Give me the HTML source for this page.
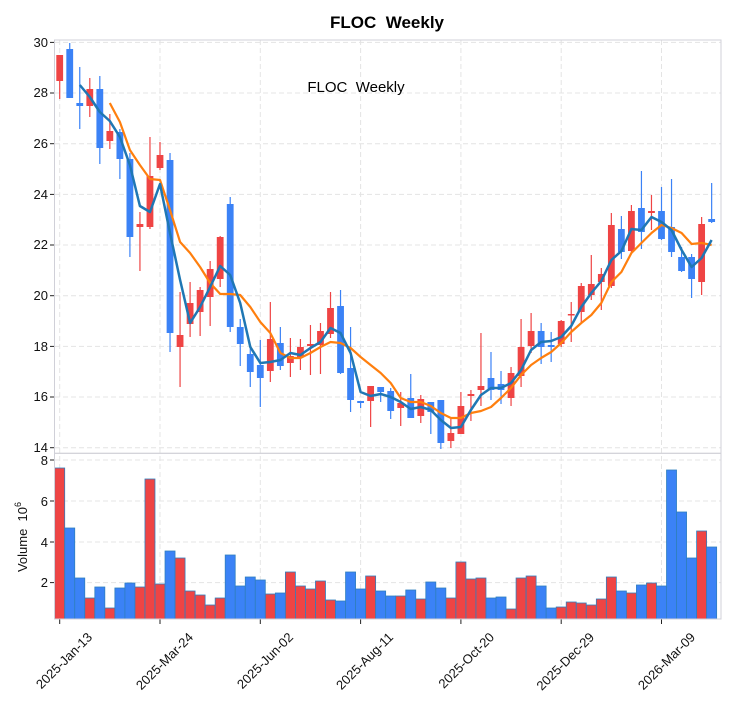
<!DOCTYPE html>
<html><head><meta charset="utf-8"><style>
body{margin:0;background:#fff;}
svg{display:block;font-family:"Liberation Sans","DejaVu Sans",sans-serif;}
</style></head><body>
<svg id="s" width="735" height="713" viewBox="0 0 735 713" xmlns="http://www.w3.org/2000/svg">
<rect width="735" height="713" fill="#fff"/>
<g id="grid"></g>
<g id="cand"></g>
<g id="vol"></g>
<g id="lines"></g>
<rect x="54.5" y="40" width="666.5" height="413.3" fill="none" stroke="#d0d0d8" stroke-width="1"/>
<rect x="54.5" y="453.3" width="666.5" height="165.7" fill="none" stroke="#d0d0d8" stroke-width="1"/>
<text x="387" y="28" text-anchor="middle" font-size="17" font-weight="bold" fill="#000">FLOC&#160; Weekly</text>
<text x="356" y="92" text-anchor="middle" font-size="15" fill="#000">FLOC&#160; Weekly</text>
<g font-size="13" fill="#111" text-anchor="end">
<text x="48" y="452">14</text><text x="48" y="401">16</text><text x="48" y="351">18</text><text x="48" y="300">20</text>
<text x="48" y="249">22</text><text x="48" y="199">24</text><text x="48" y="148">26</text><text x="48" y="97">28</text><text x="48" y="47">30</text>
<text x="48" y="465">8</text><text x="48" y="506">6</text><text x="48" y="547">4</text><text x="48" y="587">2</text>
</g>
<text transform="translate(27,537) rotate(-90)" text-anchor="middle" font-size="13" fill="#111">Volume&#160; 10<tspan dy="-6" font-size="9">6</tspan></text>
<g font-size="13" fill="#111" text-anchor="end">
<text transform="translate(93,638) rotate(-45)">2025-Jan-13</text>
<text transform="translate(194,638) rotate(-45)">2025-Mar-24</text>
<text transform="translate(294,638) rotate(-45)">2025-Jun-02</text>
<text transform="translate(394,638) rotate(-45)">2025-Aug-11</text>
<text transform="translate(495,638) rotate(-45)">2025-Oct-20</text>
<text transform="translate(595,638) rotate(-45)">2025-Dec-29</text>
<text transform="translate(696,638) rotate(-45)">2026-Mar-09</text>
</g>
</svg>
<script>
var NS="http://www.w3.org/2000/svg";
function el(p,t,a){var e=document.createElementNS(NS,t);for(var k in a)e.setAttribute(k,a[k]);document.getElementById(p).appendChild(e);return e;}
var R="#ef4444",B="#3b82f6";
[447.7,397,346.4,295.7,245,194.4,143.7,93,42.4].forEach(function(y){el("grid","line",{x1:55,x2:721,y1:y,y2:y,stroke:"#e4e4e4","stroke-dasharray":"5,3"});el("grid","line",{x1:50,x2:54.5,y1:y,y2:y,stroke:"#222"});});
[460,501,542,582.6].forEach(function(y){el("grid","line",{x1:55,x2:721,y1:y,y2:y,stroke:"#e4e4e4","stroke-dasharray":"5,3"});el("grid","line",{x1:50,x2:54.5,y1:y,y2:y,stroke:"#222"});});
for(var k=0;k<7;k++){var x=59.7+100.3*k;el("grid","line",{x1:x,x2:x,y1:40,y2:619,stroke:"#e4e4e4","stroke-dasharray":"5,3"});el("grid","line",{x1:x,x2:x,y1:619,y2:624,stroke:"#222"});}
var C=[[55,81,55,99,R],[49,98,43,98,B],[103,106,67,129,B],[89,106,78,117,R],[89,148,76,164,B],[131,141,114,149,R],[132,159,129,179,B],[159,237,153,257,B],[224,227,212,271,R],[176,227,137,229,R],
[155,168,142,170,R],[160,333,153,352,B],[335,347,292,387,R],[303,324,282,337,R],[290,312,287,336,R],[269,297,261,326,R],[237,279,236,287,R],[204,327,197,332,B],[327,344,319,366,B],[354,372,347,387,B],
[365,378,340,407,B],[339,371,302,382,R],[343,366,327,370,B],[356,363,338,377,R],[347,357,339,370,R],[344,346,325,375,R],[331,345,323,374,R],[308,334,292,338,R],[306,373,290,374,B],[368,400,327,412,B],
[401,403,401,408,B],[386,401,386,427,R],[387,392,387,402,B],[391,411,388,419,B],[403,408,392,426,R],[398,418,374,418,B],[399,416,395,423,R],[402,412,402,434,B],[400,443,400,449,B],[433,441,419,448,R],
[406,434,392,434,R],[394,396,390,421,R],[386,390,333,406,R],[378,390,352,400,B],[384,390,371,404,B],[373,398,367,406,R],[347,376,319,387,R],[331,346,313,353,R],[331,347,323,364,B],[345,347,332,362,B],
[321,344,320,347,R],[314,315,302,342,R],[286,312,283,322,R],[284,295,255,300,R],[274,282,268,310,R],[225,286,213,288,R],[229,252,216,259,B],[211,251,205,253,R],[208,232,171,249,B],[211,213,195,230,R],
[211,239,187,240,B],[227,252,179,257,B],[257,271,247,272,B],[257,279,254,298,B],[224,282,217,295,R],[219,222,183,223,B]];
C.forEach(function(c,i){var x=59.7+10.03*i;el("cand","line",{x1:x,x2:x,y1:c[2],y2:c[3],stroke:c[4],"stroke-width":1.2});
var h=Math.max(c[1]-c[0],1.5);el("cand","rect",{x:x-3.4,y:c[0],width:6.8,height:h,fill:c[4]});});
var V=[[468,R],[528,B],[578,B],[598,R],[587,B],[608,R],[588,B],[583,B],[587,R],[479,R],[584,R],[551,B],[558,R],[591,R],[595,R],[605,R],[598,R],[555,B],[586,B],[577,B],
[580,B],[594,R],[593,B],[572,R],[586,R],[589,R],[581,R],[600,R],[601,B],[572,B],[589,B],[576,R],[591,B],[596,B],[596,R],[590,B],[599,R],[582,B],[588,B],[598,R],
[562,R],[579,R],[578,R],[598,B],[597,B],[609,R],[578,R],[576,R],[586,B],[608,B],[607,R],[602,R],[603,R],[605,R],[599,R],[577,R],[591,B],[593,R],[585,B],[583,R],
[586,B],[470,B],[512,B],[558,B],[531,R],[547,B]];
V.forEach(function(v,i){var x=54.7+10.03*i;el("vol","rect",{x:x,y:v[0],width:10,height:619-v[0],fill:v[1],stroke:"#2f7fbf","stroke-width":0.8});});
function line(start,ys,col,w){var p=[];ys.forEach(function(y,j){p.push((59.7+10.03*(start+j)).toFixed(1)+","+y);});el("lines","polyline",{points:p.join(" "),fill:"none",stroke:col,"stroke-width":w,"stroke-linejoin":"round"});}
line(5,[103,122,150,165,179,180,210,242,253,267,283,294,294,295,307,322,333,353,358,358,353,347,342,343,348,357,365,373,383,398,402,402,406,413,418,418,413,411,407,398,388,375,365,358,352,343,332,323,315,303,282,272,253,243,233,225,228,233,244,243,245],"#ff7f0e",2.2);
line(2,[85,97,112,121,137,165,206,212,184,233,280,323,307,287,266,275,303,347,363,362,360,353,355,348,342,328,333,353,392,396,394,397,402,409,407,410,420,428,427,410,395,388,388,383,370,350,342,341,337,326,307,293,281,260,251,229,230,217,222,230,250,267,258,240],"#1f77b4",2.5);
</script>
</body></html>
